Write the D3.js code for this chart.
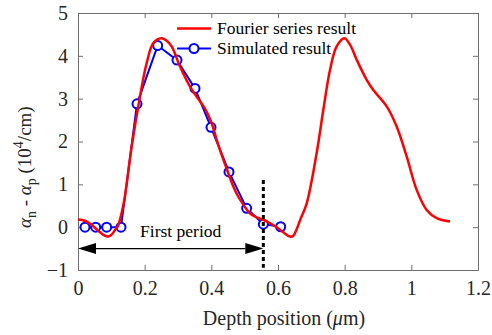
<!DOCTYPE html>
<html>
<head>
<meta charset="utf-8">
<script src="https://cdn.jsdelivr.net/npm/d3@7"></script>
<style>
  html, body { margin: 0; padding: 0; background: #fff; }
  svg text { font-family: "Liberation Serif", "Tinos", "DejaVu Serif", serif; }
</style>
</head>
<body>
<div id="chart"></div>
<script>
// tick values
const xTicks = [0, 0.2, 0.4, 0.6, 0.8, 1, 1.2];
const yTicks = [-1, 0, 1, 2, 3, 4, 5];

// Fourier series result (red)
const fourierDepth = [0, 0.02, 0.04, 0.06, 0.08, 0.09, 0.10, 0.11, 0.12, 0.13, 0.14, 0.161, 0.186, 0.206, 0.226, 0.25, 0.265, 0.281, 0.306, 0.336, 0.36, 0.38, 0.40, 0.416, 0.435, 0.451, 0.466, 0.481, 0.50, 0.516, 0.536, 0.556, 0.576, 0.596, 0.616, 0.636, 0.646, 0.656, 0.668, 0.686, 0.716, 0.736, 0.756, 0.776, 0.799, 0.816, 0.836, 0.866, 0.886, 0.926, 0.956, 0.986, 1.016, 1.046, 1.076, 1.116];
const fourierAlpha = [0.18, 0.15, 0.06, -0.08, -0.2, -0.22, -0.18, -0.08, 0.03, 0.3, 0.68, 1.88, 3.05, 3.83, 4.30, 4.41, 4.36, 4.22, 3.75, 3.28, 3.0, 2.78, 2.45, 2.04, 1.6, 1.26, 0.95, 0.71, 0.48, 0.32, 0.23, 0.17, 0.09, 0.0, -0.12, -0.22, -0.2, -0.05, 0.2, 0.55, 1.73, 2.74, 3.67, 4.22, 4.41, 4.26, 3.91, 3.44, 3.2, 2.82, 2.35, 1.65, 0.87, 0.40, 0.21, 0.13];

// Simulated result (blue circles)
const simDepth = [0.021, 0.053, 0.086, 0.129, 0.177, 0.239, 0.297, 0.351, 0.399, 0.453, 0.506, 0.556, 0.608];
const simAlpha = [0, 0, 0, 0, 2.88, 4.24, 3.9, 3.24, 2.33, 1.29, 0.44, 0.07, 0.01];

// "First period" annotation
const periodEnd = 0.556;
const periodArrowY = -0.5;
const periodLineTop = 1.1;
const periodLineBottom = -0.95;

const width = 492;
const height = 335;
const marginTop = 13;
const marginRight = 14;
const marginBottom = 65;
const marginLeft = 78;

const textColor = "#262626";
const axisColor = "#6e6e6e";

const x = d3.scaleLinear([0, 1.2], [marginLeft, width - marginRight]);
const y = d3.scaleLinear([-1, 5], [height - marginBottom, marginTop]);

const svg = d3.select("#chart").append("svg")
    .attr("width", width)
    .attr("height", height)
    .attr("viewBox", [0, 0, width, height]);

// axes (ticks pointing inward, box all around)
function styleAxis(g) {
    g.attr("font-family", null);
    g.select(".domain").attr("stroke", axisColor);
    g.selectAll(".tick line").attr("stroke", axisColor);
    g.selectAll(".tick text")
        .attr("fill", textColor)
        .attr("font-size", 20);
}

svg.append("g")
    .attr("transform", `translate(0,${height - marginBottom})`)
    .call(d3.axisBottom(x).tickValues(xTicks).tickFormat(d3.format("~g"))
        .tickSizeInner(-5).tickSizeOuter(0).tickPadding(11))
    .call(styleAxis);

svg.append("g")
    .attr("transform", `translate(0,${marginTop})`)
    .call(d3.axisTop(x).tickValues(xTicks).tickFormat("")
        .tickSizeInner(-5).tickSizeOuter(0))
    .call(styleAxis);

svg.append("g")
    .attr("transform", `translate(${marginLeft},0)`)
    .call(d3.axisLeft(y).tickValues(yTicks).tickFormat(d3.format("d"))
        .tickSizeInner(-5).tickSizeOuter(0).tickPadding(10))
    .call(styleAxis);

svg.append("g")
    .attr("transform", `translate(${width - marginRight},0)`)
    .call(d3.axisRight(y).tickValues(yTicks).tickFormat("")
        .tickSizeInner(-5).tickSizeOuter(0))
    .call(styleAxis);

// x axis title
const xTitle = svg.append("text")
    .attr("x", 284)
    .attr("y", 325)
    .attr("text-anchor", "middle")
    .attr("font-size", 20)
    .attr("fill", textColor);
xTitle.append("tspan").text("Depth position (");
xTitle.append("tspan").attr("font-style", "italic").text("\u03bc");
xTitle.append("tspan").text("m)");

// y axis title, anchored at its bottom end like the reference
const yTitle = svg.append("text")
    .attr("transform", "translate(31,228) rotate(-90)")
    .attr("text-anchor", "start")
    .attr("font-size", 19)
    .attr("fill", textColor);
yTitle.append("tspan").attr("font-style", "italic").text("\u03b1");
yTitle.append("tspan").attr("font-size", 14).attr("dy", 5).text("n");
yTitle.append("tspan").attr("dy", -5).text(" - ");
yTitle.append("tspan").attr("font-style", "italic").text("\u03b1");
yTitle.append("tspan").attr("font-size", 14).attr("dy", 5).text("p");
yTitle.append("tspan").attr("dy", -5).text("  (10");
yTitle.append("tspan").attr("font-size", 14).attr("dy", -8).text("4");
yTitle.append("tspan").attr("dy", 8).text("/cm)");

// simulated result: line + open circles
const sim = simDepth.map((d, i) => ({ x: d, y: simAlpha[i] }));
const fourier = fourierDepth.map((d, i) => ({ x: d, y: fourierAlpha[i] }));

svg.append("path")
    .datum(sim)
    .attr("fill", "none")
    .attr("stroke", "#0000ff")
    .attr("stroke-width", 2)
    .attr("d", d3.line().x(d => x(d.x)).y(d => y(d.y)));

svg.append("g")
    .selectAll("circle")
    .data(sim)
    .join("circle")
    .attr("cx", d => x(d.x))
    .attr("cy", d => y(d.y))
    .attr("r", 4.5)
    .attr("fill", "#fff")
    .attr("stroke", "#0000ff")
    .attr("stroke-width", 2);

// Fourier series curve
svg.append("path")
    .datum(fourier)
    .attr("fill", "none")
    .attr("stroke", "#ff0000")
    .attr("stroke-width", 2.5)
    .attr("stroke-linejoin", "round")
    .attr("d", d3.line().curve(d3.curveCatmullRom).x(d => x(d.x)).y(d => y(d.y)));

// period marker: dashed vertical line
svg.append("line")
    .attr("x1", x(periodEnd)).attr("x2", x(periodEnd))
    .attr("y1", y(periodLineTop)).attr("y2", y(periodLineBottom))
    .attr("stroke", "#000")
    .attr("stroke-width", 3)
    .attr("stroke-dasharray", "4,3");

// double-headed arrow
const ay = y(periodArrowY);
const headLen = 18, headHalf = 5.5;
svg.append("line")
    .attr("x1", x(0) + headLen).attr("x2", x(periodEnd) - headLen)
    .attr("y1", ay).attr("y2", ay)
    .attr("stroke", "#000")
    .attr("stroke-width", 1.2);
svg.append("path")
    .attr("fill", "#000")
    .attr("d", `M${x(0)},${ay}L${x(0) + headLen},${ay - headHalf}L${x(0) + headLen},${ay + headHalf}Z`);
svg.append("path")
    .attr("fill", "#000")
    .attr("d", `M${x(periodEnd)},${ay}L${x(periodEnd) - headLen},${ay - headHalf}L${x(periodEnd) - headLen},${ay + headHalf}Z`);

svg.append("text")
    .attr("x", x(0.308))
    .attr("y", 237)
    .attr("text-anchor", "middle")
    .attr("font-size", 17.5)
    .attr("fill", "#000")
    .text("First period");

// legend
const legend = svg.append("g")
    .attr("font-size", 17.5)
    .attr("fill", "#000");

legend.append("line")
    .attr("x1", 177).attr("x2", 211)
    .attr("y1", 28.5).attr("y2", 28.5)
    .attr("stroke", "#ff0000").attr("stroke-width", 2.5);
legend.append("text").attr("x", 217).attr("y", 28.5).attr("dy", "0.33em").text("Fourier series result");

legend.append("line")
    .attr("x1", 177).attr("x2", 211)
    .attr("y1", 48.5).attr("y2", 48.5)
    .attr("stroke", "#0000ff").attr("stroke-width", 2);
legend.append("circle")
    .attr("cx", 194).attr("cy", 48.5).attr("r", 4.5)
    .attr("fill", "#fff").attr("stroke", "#0000ff").attr("stroke-width", 2);
legend.append("text").attr("x", 217).attr("y", 48.5).attr("dy", "0.33em").text("Simulated result");
</script>
</body>
</html>
